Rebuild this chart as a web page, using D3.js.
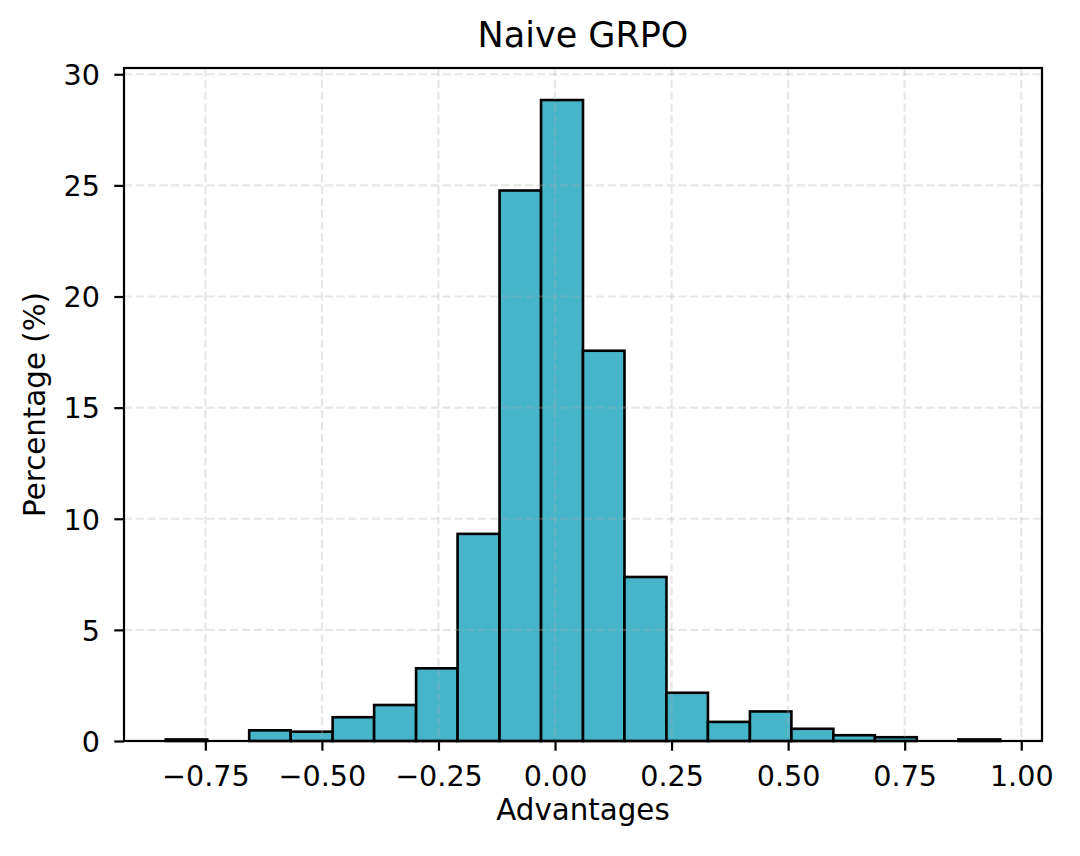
<!DOCTYPE html>
<html>
<head>
<meta charset="utf-8">
<script src="https://cdn.jsdelivr.net/npm/d3@7"></script>
<style>
  html, body { margin: 0; padding: 0; background: #ffffff; }
  svg { display: block; }
  text { font-family: "DejaVu Sans", sans-serif; fill: #000; }
</style>
</head>
<body>
<svg id="chart" width="1080" height="856"></svg>
<script>
// ---- data ----
const title = "Naive GRPO";
const xLabel = "Advantages";
const yLabel = "Percentage (%)";
const binEdges = [-0.835, -0.746, -0.656, -0.567, -0.477, -0.388, -0.298, -0.209, -0.119, -0.030,
                  0.060, 0.149, 0.239, 0.328, 0.418, 0.507, 0.597, 0.686, 0.776, 0.865, 0.955];
const percentages = [0.07, 0, 0.48, 0.42, 1.07, 1.62, 3.27, 9.32, 24.77, 28.84,
                     17.56, 7.38, 2.17, 0.86, 1.33, 0.55, 0.26, 0.17, 0, 0.07];
const xTicks = [-0.75, -0.5, -0.25, 0, 0.25, 0.5, 0.75, 1.0];
const yTicks = [0, 5, 10, 15, 20, 25, 30];

// ---- layout ----
const W = 1080, H = 856;
const plot = { left: 124, right: 1042, top: 68, bottom: 741 };
const barColor = "#46b5ca";

const svg = d3.select("#chart");

const xMin = binEdges[0], xMax = binEdges[binEdges.length - 1];
const xPad = (xMax - xMin) * 0.05;
const x = d3.scaleLinear().domain([xMin - xPad, xMax + xPad]).range([plot.left, plot.right]);
const yMax = d3.max(percentages) * 1.05;
const y = d3.scaleLinear().domain([0, yMax]).range([plot.bottom, plot.top]);

const bins = percentages.map((v, i) => ({ x0: binEdges[i], x1: binEdges[i + 1], v }));

// bars
svg.append("g").selectAll("rect").data(bins).join("rect")
  .attr("x", d => x(d.x0))
  .attr("y", d => y(d.v))
  .attr("width", d => x(d.x1) - x(d.x0))
  .attr("height", d => y(0) - y(d.v))
  .attr("fill", barColor)
  .attr("stroke", "#000")
  .attr("stroke-width", 2.6);

// grid (drawn above bars, translucent)
const grid = svg.append("g")
  .attr("stroke", "#b0b0b0").attr("stroke-opacity", 0.3)
  .attr("stroke-width", 2.2).attr("stroke-dasharray", "8.2,3.6");
grid.selectAll("line.v").data(xTicks).join("line").attr("class", "v")
  .attr("x1", d => x(d)).attr("x2", d => x(d))
  .attr("y1", plot.top).attr("y2", plot.bottom);
grid.selectAll("line.h").data(yTicks).join("line").attr("class", "h")
  .attr("y1", d => y(d)).attr("y2", d => y(d))
  .attr("x1", plot.left).attr("x2", plot.right);

// axes
const fmtX = d3.format(".2f");
const xAxis = d3.axisBottom(x).tickValues(xTicks).tickFormat(fmtX).tickSize(9.7).tickPadding(12);
const yAxis = d3.axisLeft(y).tickValues(yTicks).tickFormat(d3.format("d")).tickSize(9.7).tickPadding(12);

const gx = svg.append("g").attr("transform", `translate(0,${plot.bottom})`).call(xAxis);
const gy = svg.append("g").attr("transform", `translate(${plot.left},0)`).call(yAxis);
[gx, gy].forEach(g => {
  g.select(".domain").remove();
  g.selectAll(".tick line").attr("stroke", "#000").attr("stroke-width", 2.2);
  g.selectAll(".tick text").attr("font-size", 28.6).attr("font-family", "DejaVu Sans").attr("fill", "#000");
});
gx.selectAll(".tick text").attr("dy", null).attr("y", 45);
gy.selectAll(".tick text").attr("dy", "0.36em").attr("x", -24);

// spines
svg.append("rect")
  .attr("x", plot.left).attr("y", plot.top)
  .attr("width", plot.right - plot.left).attr("height", plot.bottom - plot.top)
  .attr("fill", "none").attr("stroke", "#000").attr("stroke-width", 2.2);

// title & labels
const cx = (plot.left + plot.right) / 2;
svg.append("text").attr("x", cx).attr("y", 47).attr("text-anchor", "middle")
  .attr("font-size", 35).text(title);
svg.append("text").attr("x", cx).attr("y", 820).attr("text-anchor", "middle")
  .attr("font-size", 29.3).text(xLabel);
svg.append("text")
  .attr("transform", `translate(45,${(plot.top + plot.bottom) / 2}) rotate(-90)`)
  .attr("text-anchor", "middle").attr("font-size", 29.3).text(yLabel);
</script>
</body>
</html>
